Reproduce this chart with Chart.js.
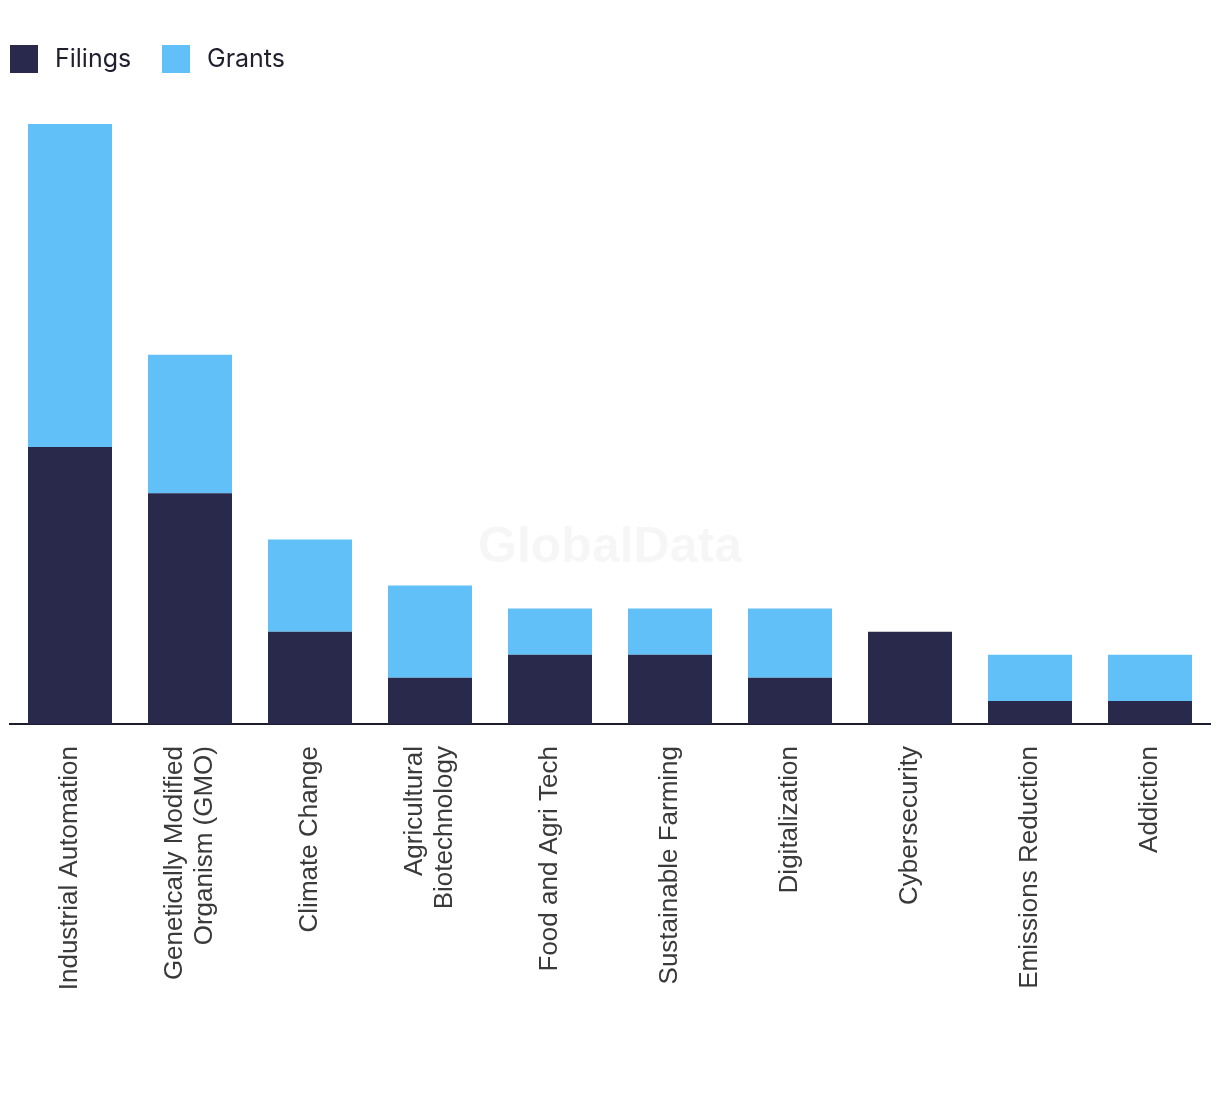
<!DOCTYPE html>
<html>
<head>
<meta charset="utf-8">
<script src="https://cdn.jsdelivr.net/npm/chart.js@4"></script>
<style>
  html, body { margin: 0; padding: 0; background: #fff; }
  #wrap { width: 1220px; height: 1094px; }
</style>
</head>
<body>
<div id="wrap"><canvas id="topics-chart"></canvas></div>
<script>
// topics and counts
const topics = [
    'Industrial Automation',
    ['Genetically Modified', 'Organism (GMO)'],
    'Climate Change',
    ['Agricultural', 'Biotechnology'],
    'Food and Agri Tech',
    'Sustainable Farming',
    'Digitalization',
    'Cybersecurity',
    'Emissions Reduction',
    'Addiction'
]
const filings = [12, 10, 4, 2, 3, 3, 2, 4, 1, 1]
const grants  = [14, 6, 4, 4, 2, 2, 3, 0, 2, 2]

const labelFont = '26px "Liberation Sans", Arial, sans-serif'

//faint watermark in the middle of the plot
const watermark = {
    id: 'watermark',
    beforeDatasetsDraw(chart) {
        const ctx = chart.ctx
        ctx.save()
        ctx.font = 'bold 50px "Liberation Sans", Arial, sans-serif'
        ctx.fillStyle = 'rgba(0,0,0,0.035)'
        ctx.textAlign = 'center'
        ctx.textBaseline = 'middle'
        ctx.fillText('GlobalData', 610, 548)
        ctx.restore()
    }
}

//square legend on the top left, built from the datasets
const squareLegend = {
    id: 'squareLegend',
    afterDraw(chart) {
        const ctx = chart.ctx
        ctx.save()
        ctx.font = '25px Inter, "Noto Sans", sans-serif'
        ctx.textBaseline = 'middle'
        let x = 10
        chart.data.datasets.forEach(ds => {
            ctx.fillStyle = ds.backgroundColor
            ctx.fillRect(x, 45, 28, 28)
            ctx.fillStyle = '#1f1f2e'
            ctx.fillText(ds.label, x + 45, 59)
            x += 152
        })
        ctx.restore()
    }
}

//rotated category labels, each block centred on its tick
const rotatedLabels = {
    id: 'rotatedLabels',
    afterDraw(chart) {
        const ctx = chart.ctx
        const scale = chart.scales.x
        const lineHeight = 30
        ctx.save()
        ctx.font = labelFont
        ctx.fillStyle = '#3a3a3a'
        ctx.textAlign = 'right'
        ctx.textBaseline = 'middle'
        scale.ticks.forEach((tick, i) => {
            const lines = [].concat(chart.data.labels[i])
            const px = scale.getPixelForTick(i)
            ctx.save()
            ctx.translate(px, chart.chartArea.bottom + 22)
            ctx.rotate(-Math.PI / 2)
            lines.forEach((line, j) => {
                ctx.fillText(line, 0, (j - (lines.length - 1) / 2) * lineHeight)
            })
            ctx.restore()
        })
        ctx.restore()
    }
}

const canvas = document.querySelector('#topics-chart')
new Chart(canvas.getContext('2d'), {
    type: 'bar',
    data: {
        labels: topics,
        datasets: [
            {
                label: 'Filings',
                data: filings,
                backgroundColor: '#28294b',
                barPercentage: 0.7,
                categoryPercentage: 1.0
            },
            {
                label: 'Grants',
                data: grants,
                backgroundColor: '#61c0f8',
                barPercentage: 0.7,
                categoryPercentage: 1.0
            }
        ]
    },
    options: {
        responsive: true,
        maintainAspectRatio: false,
        animation: false,
        layout: {
            padding: { left: 10, right: 10, top: 124, bottom: 370 }
        },
        plugins: {
            legend: { display: false },
            tooltip: { enabled: false }
        },
        scales: {
            x: {
                stacked: true,
                grid: { display: false, drawTicks: false },
                border: { display: true, color: '#1c1c2c', width: 2 },
                ticks: { display: false }
            },
            y: {
                stacked: true,
                display: false,
                min: 0,
                max: 26
            }
        }
    },
    plugins: [watermark, squareLegend, rotatedLabels]
})
</script>
</body>
</html>
